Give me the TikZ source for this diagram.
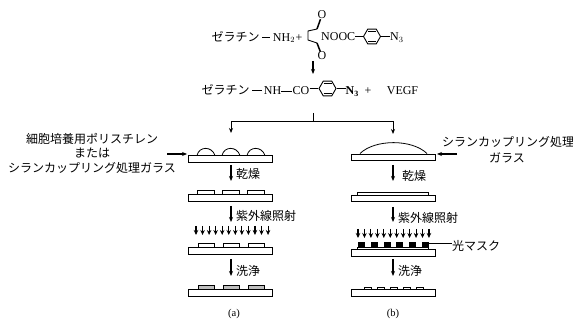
\documentclass[tikz,border=0pt]{standalone}
\usepackage{fontspec}
\setmainfont{Liberation Serif}
\newfontfamily\jpfont{Noto Sans CJK JP}
\usetikzlibrary{arrows.meta,shapes.geometric}
\tikzstyle{jp}=[font=\jpfont\fontsize{12}{14}\selectfont, inner sep=0pt]
\tikzstyle{chem}=[font=\fontsize{12}{14}\selectfont, inner sep=0pt]
\tikzstyle{caption}=[font=\fontsize{10.5}{12}\selectfont, inner sep=0pt]
\tikzstyle{ring}=[draw, regular polygon, regular polygon sides=6, minimum size=17pt, inner sep=0pt, line width=0.9pt]
\tikzstyle{plate}=[draw, fill=white, line width=1pt, minimum width=84pt, inner sep=0pt, outer sep=0pt]
\tikzstyle{pad}=[draw, line width=0.8pt]
\tikzstyle{flow}=[line width=1.1pt, -{Stealth[length=5pt,width=4pt]}]
\tikzstyle{ray}=[line width=1.1pt, -{Stealth[length=5pt,width=4.5pt]}]
\begin{document}
\begin{tikzpicture}[x=1pt,y=-1pt]
	\useasboundingbox (0,0) rectangle (573,320);
	% first line
	\node[jp] (gelb) at (235.5,37) {ゼラチン};
	\node[chem] (nhtwo) at (284,38) {NH$_{2}$};
	\node[chem] (plusa) at (299,38) {+};
	\node[chem, anchor=west] (nooc) at (321,36.5) {NOOC};
	\node[ring] (ringa) at (372,36.5) {};
	\node[chem, anchor=west] (nthree) at (390,37.5) {N$_{3}$};
	\node[chem] (oa) at (322,15) {O};
	\node[chem] (ob) at (322,56) {O};
	\coordinate (ca) at (317,29);
	\coordinate (cb) at (317,43);
	\draw[line width=0.9pt] (262,37) -- (270,37);
	\draw[line width=0.9pt] (ca) -- (308,31) -- (308,40) -- (cb);
	\draw[line width=1.5pt] (ca) -- (oa);
	\draw[line width=1.5pt] (cb) -- (ob);
	\draw[line width=0.9pt] (nooc.east) -- (ringa.west);
	\draw[line width=0.9pt] (ringa.east) -- (nthree.west|-ringa);
	\draw[line width=0.9pt] ([shift={(-4,-4.8)}]ringa.center) -- ([shift={(4,-4.8)}]ringa.center);
	\draw[line width=0.9pt] ([shift={(-4,4.8)}]ringa.center) -- ([shift={(4,4.8)}]ringa.center);
	\coordinate (reacta) at (313,61);
	\coordinate (reactb) at (313,74);
	\draw[flow] (reacta) -- (reactb);
	% second line
	\node[jp] (gelc) at (225.5,90) {ゼラチン};
	\node[chem] (nh) at (272.5,91) {NH};
	\node[chem] (co) at (301,91) {CO};
	\node[ring] (ringb) at (327.5,88.5) {};
	\node[chem, anchor=west] (nthreeb) at (345.5,91.5) {\textbf{N$_{\mathbf{3}}$}};
	\node[chem] (plusb) at (368,91) {+};
	\node[chem] (vegf) at (402.5,91) {VEGF};
	\draw[line width=0.9pt] (252,90) -- (262,90);
	\draw[line width=0.9pt] (nh) -- (co);
	\draw[line width=0.9pt] (co.east|-ringb) -- (ringb.west);
	\draw[line width=1.3pt] (ringb.east) -- (nthreeb.west|-ringb);
	\draw[line width=0.9pt] ([shift={(-4,-4.8)}]ringb.center) -- ([shift={(4,-4.8)}]ringb.center);
	\draw[line width=0.9pt] ([shift={(-4,4.8)}]ringb.center) -- ([shift={(4,4.8)}]ringb.center);
	% split
	\coordinate (stem) at (313,113);
	\coordinate (fork) at (313,121);
	\draw[line width=0.9pt] (stem) -- (fork);
	% plates, left
	\node[plate, minimum height=6.5pt] (la) at (230,159) {};
	\node[plate, minimum height=6.5pt] (lb) at (230,198) {};
	\node[plate, minimum height=6.5pt] (lc) at (230,251) {};
	\node[plate, minimum height=7.5pt] (ld) at (230,293) {};
	\draw[line width=0.9pt, -{Stealth[length=5pt,width=4pt]}] (fork) -| (231,133);
	\draw[line width=0.9pt, -{Stealth[length=5pt,width=4pt]}] (fork) -| (393,134);
	\foreach \x in {197,222,247} {
		\draw[pad] (\x,155.5) .. controls (\x+2,146) and (\x+15,146) .. (\x+18,155.5);
		\draw[pad] (\x,194.5) |- (\x+17,190) -- (\x+17,194.5);
		\draw[pad] (\x+1,247.5) |- (\x+17,243) -- (\x+17,247.5);
		\draw[pad, fill=black!25] (\x+1,285) rectangle (\x+17,289);
	}
	\foreach \i in {0,...,11}
		\draw[ray] (196+\i*6.55,226) -- (196+\i*6.55,235);
	\foreach \n/\t/\b in {1/165/181, 2/206/222, 3/259/276} {
		\coordinate (lt\n) at (231,\t);
		\coordinate (lu\n) at (231,\b);
		\draw[flow] (lt\n) -- (lu\n);
	}
	\node[jp] (dryl) at (248,174) {乾燥};
	\node[jp] (uvl) at (266,216) {紫外線照射};
	\node[jp] (washl) at (248,271) {洗浄};
	\node[jp] (substl) at (92,139) {細胞培養用ポリスチレン};
	\node[jp] (orl) at (92,153) {または};
	\node[jp] (silanel) at (92,168) {シランカップリング処理ガラス};
	\coordinate (ptl) at (167,154);
	\coordinate (ptlend) at (187,154);
	\draw[flow] (ptl) -- (ptlend);
	\node[caption] (capa) at (234,314) {(a)};
	% plates, right
	\node[plate, minimum height=6.5pt] (ra) at (393,157.5) {};
	\node[plate, minimum height=6.5pt] (rb) at (393,198.5) {};
	\node[plate, minimum height=6.5pt] (rc) at (393,253) {};
	\node[plate, minimum height=7pt] (rd) at (393,293.5) {};
	\draw[pad] (360,153.5) .. controls (375,139) and (412,139) .. (427,153.5);
	\draw[pad] (357,195) |- (428,192) -- (428,195);
	\draw[pad] (357,249.5) |- (428,247) -- (428,249.5);
	\foreach \x in {358,371,384,396,409,422}
		\fill (\x,242) rectangle (\x+7.3,247);
	\foreach \x in {364,377,390,403,416}
		\draw[pad] (\x,290) |- (\x+7.5,287) -- (\x+7.5,290);
	\foreach \i in {0,...,11}
		\draw[ray] (358+\i*6.45,229) -- (358+\i*6.45,238);
	\foreach \n/\t/\b in {1/165/181, 2/207/222, 3/259/276} {
		\coordinate (rt\n) at (393,\t);
		\coordinate (ru\n) at (393,\b);
		\draw[flow] (rt\n) -- (ru\n);
	}
	\node[jp] (dryr) at (414,176) {乾燥};
	\node[jp] (uvr) at (428,218) {紫外線照射};
	\node[jp] (washr) at (410,271) {洗浄};
	\node[jp, anchor=west] (silaner) at (442,142) {シランカップリング処理};
	\node[jp] (glassr) at (507,158) {ガラス};
	\node[jp, anchor=west] (maskr) at (452,246) {光マスク};
	\coordinate (ptr) at (457,154);
	\coordinate (ptrend) at (437,154);
	\draw[flow] (ptr) -- (ptrend);
	\coordinate (masktip) at (429,243);
	\draw[line width=0.9pt] (masktip) -- (maskr.west|-masktip);
	\node[caption] (capb) at (393,314) {(b)};
\end{tikzpicture}
\end{document}
